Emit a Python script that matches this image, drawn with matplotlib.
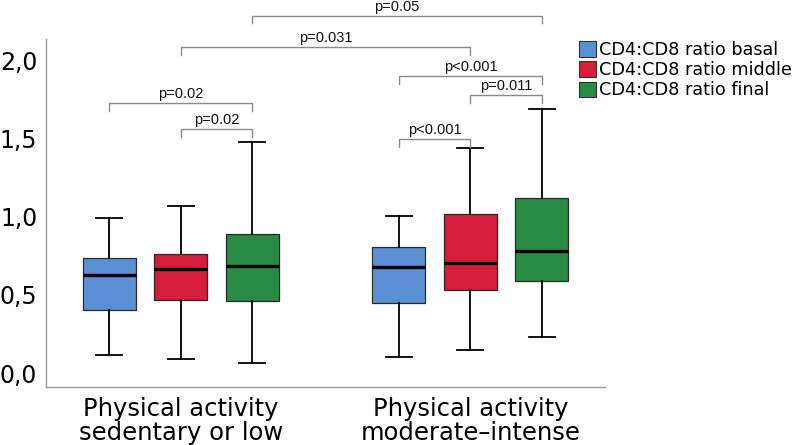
import matplotlib.pyplot as plt
from matplotlib.patches import Patch

# groups and series
groups = ["Physical activity\nsedentary or low", "Physical activity\nmoderate\u2013intense"]
series = ["CD4:CD8 ratio basal", "CD4:CD8 ratio middle", "CD4:CD8 ratio final"]
colors = ["#5b8fd3", "#d61d39", "#288a45"]

# box stats per series, one value per group
whislo = [[0.114, 0.101], [0.088, 0.146], [0.063, 0.233]]
q1 = [[0.401, 0.448], [0.469, 0.533], [0.459, 0.590]]
med = [[0.627, 0.678], [0.663, 0.706], [0.684, 0.782]]
q3 = [[0.735, 0.808], [0.761, 1.017], [0.889, 1.117]]
whishi = [[0.989, 1.006], [1.068, 1.436], [1.475, 1.686]]

# significance brackets: (group, series) -> (group, series), height, label
brackets = [
    ((0, 0), (0, 2), 1.724, "p=0.02"),
    ((0, 1), (0, 2), 1.558, "p=0.02"),
    ((0, 1), (1, 1), 2.082, "p=0.031"),
    ((0, 2), (1, 2), 2.284, "p=0.05"),
    ((1, 0), (1, 2), 1.900, "p<0.001"),
    ((1, 1), (1, 2), 1.777, "p=0.011"),
    ((1, 0), (1, 1), 1.494, "p<0.001"),
]

offset = 0.247
width = 0.183


def pos(g, s):
    return g + (s - 1) * offset


fig = plt.figure(figsize=(7.92, 4.45), dpi=100)
ax = fig.add_axes([0.0577, 0.1303, 0.7063, 0.7821])

for s in range(len(series)):
    stats = []
    for g in range(len(groups)):
        stats.append(dict(whislo=whislo[s][g], q1=q1[s][g], med=med[s][g],
                          q3=q3[s][g], whishi=whishi[s][g], fliers=[]))
    ax.bxp(stats, positions=[pos(g, s) for g in range(len(groups))],
           widths=width, patch_artist=True, showfliers=False,
           boxprops=dict(facecolor=colors[s], edgecolor="#2a2a2a", linewidth=0.9),
           medianprops=dict(color="black", linewidth=2.4),
           whiskerprops=dict(color="black", linewidth=1.3),
           capprops=dict(color="black", linewidth=1.3),
           capwidths=0.09)

for (a, b, h, label) in brackets:
    x1 = pos(*a)
    x2 = pos(*b)
    leg = 0.05
    ax.plot([x1, x1, x2, x2], [h - leg, h, h, h - leg], color="#8a8a8a",
            linewidth=1.0, clip_on=False)
    ax.text((x1 + x2) / 2, h + 0.012, label, ha="center", va="bottom",
            fontsize=10.5, family="Liberation Sans", color="#111111", clip_on=False)

ax.set_xlim(-0.467, 1.465)
ax.set_ylim(-0.089, 2.135)
ax.set_yticks([0, 0.5, 1.0, 1.5, 2.0])
ax.set_yticklabels(["0,0", "0,5", "1,0", "1,5", "2,0"])
ax.set_xticks([0, 1])
ax.set_xticklabels(groups, linespacing=1.0)
ax.tick_params(axis="y", length=0, pad=6, labelsize=17)
ax.tick_params(axis="x", length=0, pad=7, labelsize=17.5)

for side in ["top", "right"]:
    ax.spines[side].set_visible(False)
for side in ["left", "bottom"]:
    ax.spines[side].set_color("#9a9a9a")
    ax.spines[side].set_linewidth(1.0)

handles = [Patch(facecolor=c, edgecolor="#333333", linewidth=0.8) for c in colors]
fig.legend(handles, series, loc="upper left", bbox_to_anchor=(579 / 792, 1 - 41 / 445),
           frameon=False, fontsize=12.7, handlelength=0.95, handleheight=0.95,
           handletextpad=0.2, labelspacing=0.12, borderpad=0, borderaxespad=0)

fig.savefig("out.png", dpi=100)
